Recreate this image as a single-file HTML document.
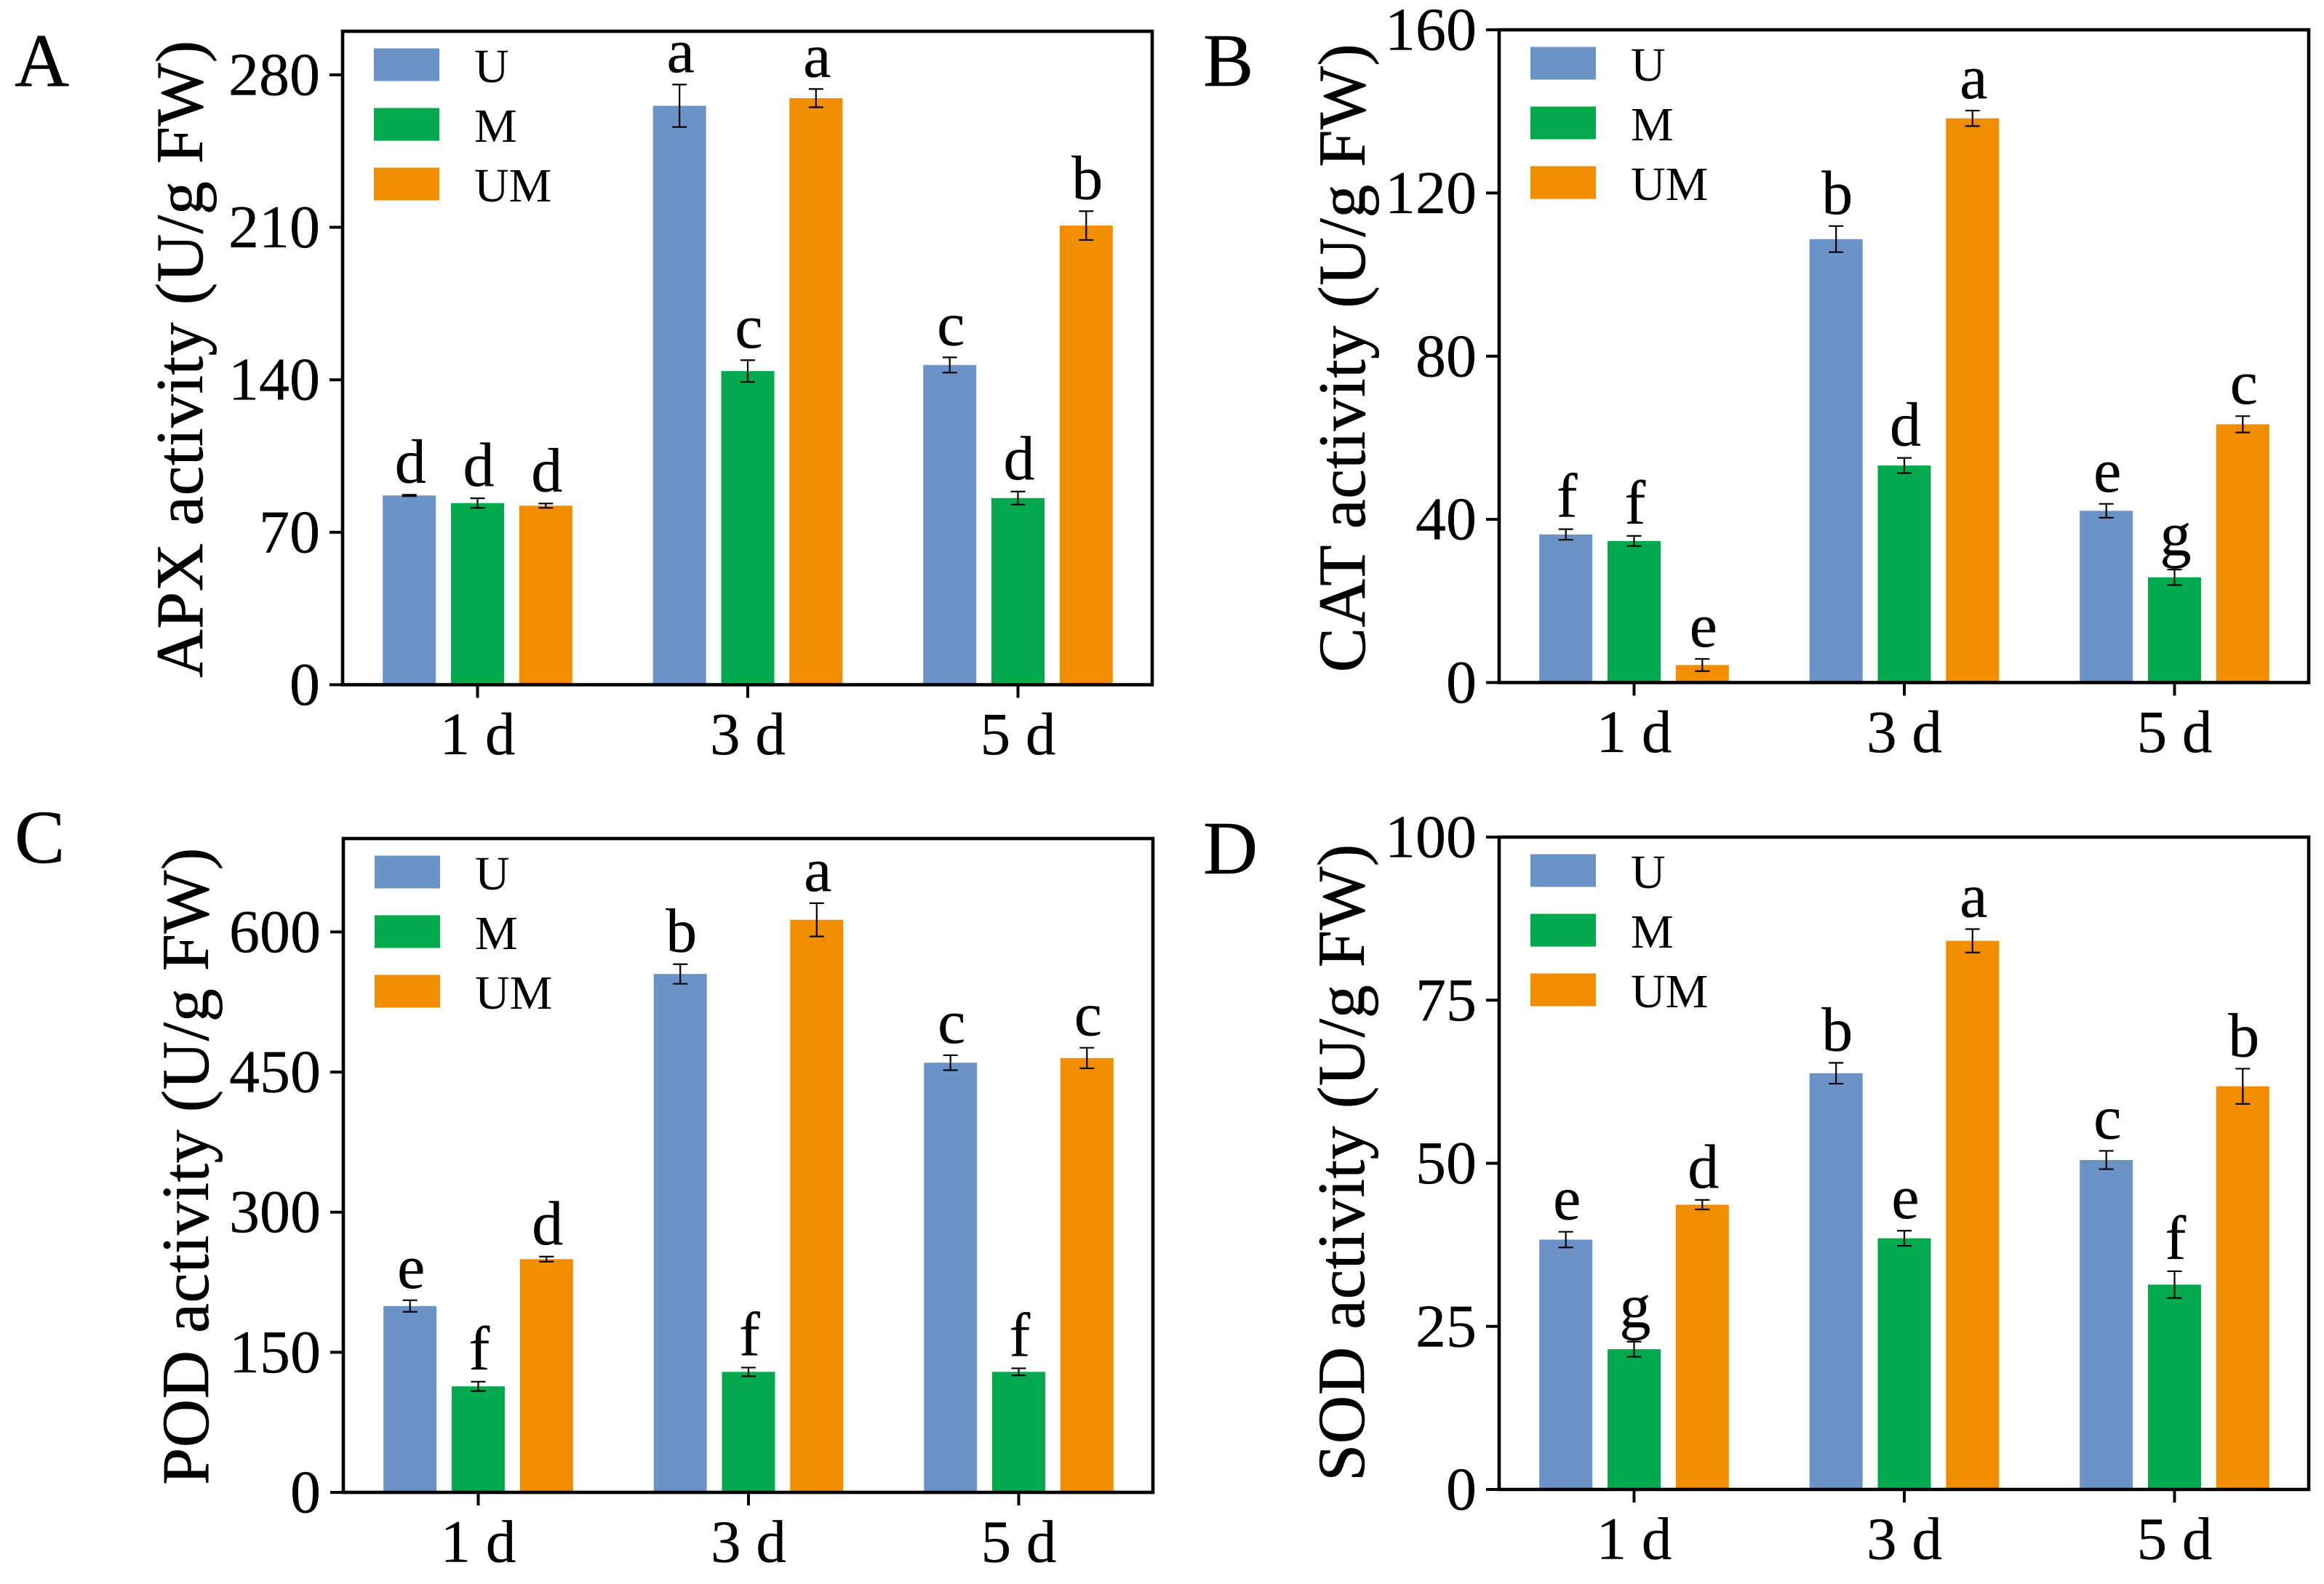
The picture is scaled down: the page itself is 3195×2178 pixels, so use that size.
<!DOCTYPE html>
<html lang="en">
<head>
<meta charset="utf-8">
<title>Antioxidant enzyme activity</title>
<style>
  html, body { margin: 0; padding: 0; background: #fff; }
  #figure { display: block; width: 3195px; height: 2178px; font-family: "Liberation Serif", serif; }
</style>
</head>
<body>
<svg id="figure" xmlns="http://www.w3.org/2000/svg" width="3195" height="2178" viewBox="0 0 3195 2178"></svg>
<script>
const categories = ['1 d', '3 d', '5 d'];
const seriesNames = ['U', 'M', 'UM'];

const apxU = [86.9, 265.8, 146.8];
const apxM = [83.4, 144.0, 85.7];
const apxUM = [82.2, 269.3, 210.8];
const apxErrU = [0.3, 9.75, 3.5];
const apxErrM = [2.2, 5.0, 3.0];
const apxErrUM = [1.0, 4.2, 6.6];
const apxLettersU = ['d', 'a', 'c'];
const apxLettersM = ['d', 'c', 'd'];
const apxLettersUM = ['d', 'a', 'b'];
const apxTicks = [0, 70, 140, 210, 280];

const catU = [36.3, 108.7, 42.1];
const catM = [34.7, 53.2, 25.8];
const catUM = [4.3, 138.3, 63.3];
const catErrU = [1.3, 3.2, 1.7];
const catErrM = [1.24, 1.86, 1.9];
const catErrUM = [1.5, 1.9, 2.0];
const catLettersU = ['f', 'b', 'e'];
const catLettersM = ['f', 'd', 'g'];
const catLettersUM = ['e', 'a', 'c'];
const catTicks = [0, 40, 80, 120, 160];

const podU = [199.5, 555, 460];
const podM = [113.5, 129, 129];
const podUM = [249.7, 613, 465];
const podErrU = [6.2, 10.5, 8.0];
const podErrM = [5.0, 4.6, 3.8];
const podErrUM = [2.7, 17.8, 11.0];
const podLettersU = ['e', 'b', 'c'];
const podLettersM = ['f', 'f', 'f'];
const podLettersUM = ['d', 'a', 'c'];
const podTicks = [0, 150, 300, 450, 600];

const sodU = [38.3, 63.8, 50.5];
const sodM = [21.5, 38.5, 31.4];
const sodUM = [43.65, 84.1, 61.8];
const sodErrU = [1.2, 1.6, 1.4];
const sodErrM = [1.16, 1.16, 2.05];
const sodErrUM = [0.73, 1.8, 2.7];
const sodLettersU = ['e', 'b', 'c'];
const sodLettersM = ['g', 'e', 'f'];
const sodLettersUM = ['d', 'a', 'b'];
const sodTicks = [0, 25, 50, 75, 100];

const seriesColors = ['#6b93c8', '#03a94d', '#f08e00'];

const panels = [
  { key: 'apx', tag: 'A', tagX: 20, tagY: 118, title: 'APX activity (U/g FW)', titleX: 278, titleY: 493.5,
    left: 471, top: 43, bottom: 941.5, yMax: 300, ticks: apxTicks,
    values: [apxU, apxM, apxUM], errors: [apxErrU, apxErrM, apxErrUM], letters: [apxLettersU, apxLettersM, apxLettersUM] },
  { key: 'cat', tag: 'B', tagX: 1654, tagY: 118, title: 'CAT activity (U/g FW)', titleX: 1876, titleY: 492,
    left: 2061, top: 41, bottom: 938.5, yMax: 160, ticks: catTicks,
    values: [catU, catM, catUM], errors: [catErrU, catErrM, catErrUM], letters: [catLettersU, catLettersM, catLettersUM] },
  { key: 'pod', tag: 'C', tagX: 20, tagY: 1186, title: 'POD activity (U/g FW)', titleX: 286, titleY: 1603.5,
    left: 472, top: 1153, bottom: 2052, yMax: 700, ticks: podTicks,
    values: [podU, podM, podUM], errors: [podErrU, podErrM, podErrUM], letters: [podLettersU, podLettersM, podLettersUM] },
  { key: 'sod', tag: 'D', tagX: 1654, tagY: 1201, title: 'SOD activity (U/g FW)', titleX: 1875, titleY: 1598.5,
    left: 2061, top: 1151, bottom: 2048, yMax: 100, ticks: sodTicks,
    values: [sodU, sodM, sodUM], errors: [sodErrU, sodErrM, sodErrUM], letters: [sodLettersU, sodLettersM, sodLettersUM] }
];

const SVG_NS = 'http://www.w3.org/2000/svg';
const figure = document.getElementById('figure');

function make(parent, tag, attrs, text) {
  const el = document.createElementNS(SVG_NS, tag);
  for (const k in attrs) el.setAttribute(k, attrs[k]);
  if (text !== undefined) el.textContent = text;
  parent.appendChild(el);
  return el;
}

function drawPanel(p) {
  const plotWidth = 1113;
  const right = p.left + plotWidth;
  const yScale = v => p.bottom - (v / p.yMax) * (p.bottom - p.top);
  const groupX = i => p.left + 185.5 + 371.5 * i;
  const barX = (i, s) => groupX(i) + (s - 1) * 93.8;
  const barWidth = 73;
  const capHalf = 10;

  const g = make(figure, 'g', {});
  
  

  const tag = make(g, 'text', { x: p.tagX, y: p.tagY, 'font-size': 104, fill: '#000', stroke: '#000', 'stroke-width': 0.4 }, p.tag);
  
  

  const title = make(g, 'text', { transform: 'translate(' + p.titleX + ',' + p.titleY + ') rotate(-90)', 'text-anchor': 'middle', 'font-size': 92, 'letter-spacing': '0.5px', fill: '#000', stroke: '#000', 'stroke-width': 0.6 }, p.title);
  
  

  seriesNames.forEach((name, s) => {
    categories.forEach((cat, i) => {
      const v = p.values[s][i];
      const e = p.errors[s][i];
      const cx = barX(i, s);
      const bar = make(g, 'rect', { x: cx - barWidth / 2, y: yScale(v), width: barWidth, height: p.bottom - yScale(v), fill: seriesColors[s] });
      
      

      const path = 'M' + cx + ' ' + yScale(v + e) + 'V' + yScale(v - e) +
        'M' + (cx - capHalf) + ' ' + yScale(v + e) + 'H' + (cx + capHalf) +
        'M' + (cx - capHalf) + ' ' + yScale(v - e) + 'H' + (cx + capHalf);
      const err = make(g, 'path', { d: path, stroke: '#000', 'stroke-width': 2.2, fill: 'none' });
      
      

      const letter = p.letters[s][i];
      const sig = make(g, 'text', { x: cx + 1.5, y: yScale(v + e) - (letter === 'g' ? 20 : 17), 'text-anchor': 'middle', 'font-size': 86, fill: '#000', stroke: '#000', 'stroke-width': 0.3 }, letter);
      
      
    });
  });

  const frame = make(g, 'rect', { x: p.left, y: p.top, width: plotWidth, height: p.bottom - p.top, fill: 'none', stroke: '#000', 'stroke-width': 4.6 });
  
  

  p.ticks.forEach(t => {
    const tickY = yScale(t);
    const tick = make(g, 'line', { x1: p.left - 18, x2: p.left, y1: tickY, y2: tickY, stroke: '#000', 'stroke-width': 4 });
    
    
    const label = make(g, 'text', { x: p.left - 31, y: tickY + 27.5, 'text-anchor': 'end', 'font-size': 84, fill: '#000', stroke: '#000', 'stroke-width': 0.3 }, String(t));
    
    
  });

  categories.forEach((cat, i) => {
    const tick = make(g, 'line', { x1: groupX(i), x2: groupX(i), y1: p.bottom, y2: p.bottom + 18, stroke: '#000', 'stroke-width': 4 });
    
    
    const label = make(g, 'text', { x: groupX(i), y: p.bottom + 95.5, 'text-anchor': 'middle', 'font-size': 83, fill: '#000', stroke: '#000', 'stroke-width': 0.3 }, cat);
    
    
  });

  seriesNames.forEach((name, s) => {
    const swatch = make(g, 'rect', { x: p.left + 43, y: p.top + 23.5 + 82 * s, width: 90, height: 45, fill: seriesColors[s] });
    
    
    const label = make(g, 'text', { x: p.left + 181, y: p.top + 70 + 82 * s, 'font-size': 66, fill: '#000' }, name);
    
    
  });
}

panels.forEach(drawPanel);
</script>
</body>
</html>
